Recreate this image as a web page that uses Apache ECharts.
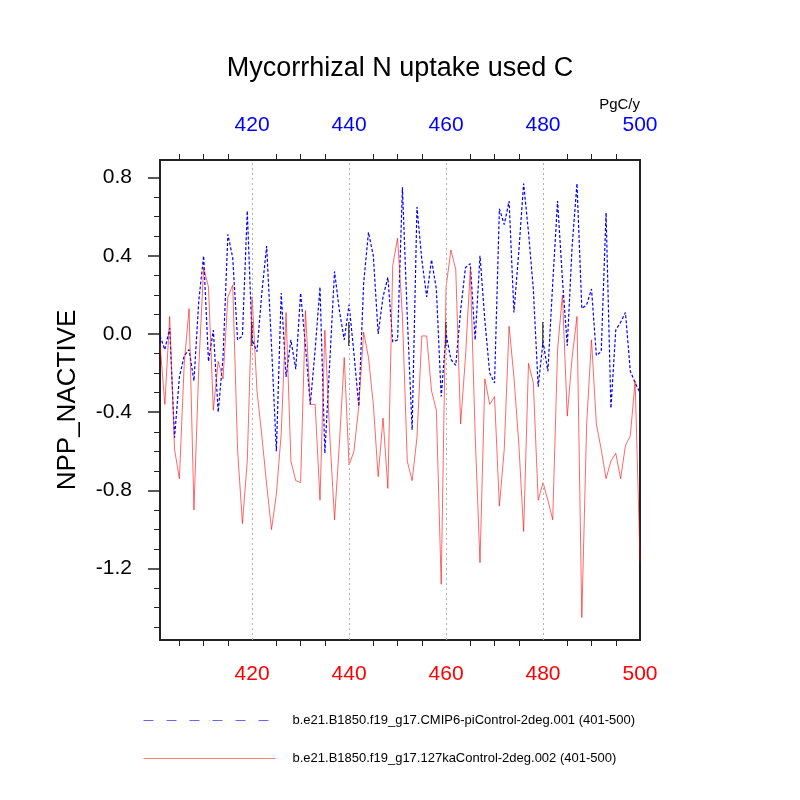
<!DOCTYPE html>
<html>
<head>
<meta charset="utf-8">
<title>Mycorrhizal N uptake used C</title>
<script src="https://cdn.jsdelivr.net/npm/echarts/dist/echarts.min.js"></script>
<style>
  html, body { margin: 0; padding: 0; background: #fff; }
  #chart { width: 800px; height: 800px; }
</style>
</head>
<body>
<div id="chart"></div>
<script>
// 年份 401-500
var startYear = 401;

// b.e21.B1850.f19_g17.CMIP6-piControl-2deg.001
var ctrlValues = [
  -0.01, -0.08, 0.03, -0.53, -0.22, -0.11, -0.08, -0.24, 0.17, 0.40,
  -0.14, 0.02, -0.40, -0.12, 0.51, 0.39, -0.03, -0.01, 0.63, -0.03,
  -0.09, 0.21, 0.45, -0.06, -0.60, 0.21, -0.22, -0.03, -0.18, 0.21,
  -0.06, -0.36, -0.08, 0.24, -0.61, -0.15, 0.32, 0.12, -0.03, 0.15,
  -0.10, -0.37, 0.26, 0.52, 0.40, 0.00, 0.19, 0.29, -0.04, -0.03,
  0.75, 0.09, -0.49, 0.65, 0.38, 0.19, 0.38, 0.23, -0.32, 0.00,
  -0.13, -0.16, 0.12, 0.34, 0.36, -0.03, 0.40, 0.07, -0.20, -0.25,
  0.64, 0.56, 0.68, 0.11, 0.42, 0.77, 0.52, 0.23, -0.27, -0.04,
  -0.19, 0.26, 0.68, 0.28, -0.06, 0.45, 0.77, 0.13, 0.15, 0.23,
  -0.11, -0.09, 0.62, -0.38, 0.02, 0.06, 0.11, -0.19, -0.25, -0.30
];

// b.e21.B1850.f19_g17.127kaControl-2deg.002
var kaValues = [
  -0.05, -0.36, 0.09, -0.59, -0.74, -0.15, 0.13, -0.90, -0.17, 0.34,
  0.24, -0.39, -0.14, -0.23, 0.19, 0.25, -0.59, -0.97, -0.65, 0.19,
  -0.29, -0.52, -0.77, -1.00, -0.82, -0.51, 0.11, -0.65, -0.75, -0.76,
  0.12, -0.36, -0.36, -0.85, 0.02, -0.51, -0.95, -0.56, -0.12, -0.67,
  -0.60, -0.37, 0.01, -0.12, -0.36, -0.73, -0.43, -0.79, 0.35, 0.49,
  0.09, -0.65, -0.75, -0.53, -0.01, -0.01, -0.29, -0.39, -1.28, 0.24,
  0.43, 0.33, -0.46, -0.12, 0.33, -0.51, -1.17, -0.23, -0.36, -0.32,
  -0.88, -0.59, 0.04, -0.22, -0.56, -1.01, -0.15, -0.25, -0.85, -0.76,
  -0.85, -0.95, -0.08, 0.20, -0.42, -0.12, 0.09, -1.45, -0.46, -0.03,
  -0.46, -0.59, -0.74, -0.65, -0.61, -0.74, -0.57, -0.52, -0.24, -1.16
];

var seriesNames = [
  'b.e21.B1850.f19_g17.CMIP6-piControl-2deg.001 (401-500)',
  'b.e21.B1850.f19_g17.127kaControl-2deg.002 (401-500)'
];

// 刻度
var xMajorTicks = [420, 440, 460, 480, 500];
var xMinorTicks = [405, 410, 415, 425, 430, 435, 445, 450, 455, 465, 470, 475, 485, 490, 495];
var yMajorTicks = [-1.2, -0.8, -0.4, 0.0, 0.4, 0.8];
var yMinorTicks = [-1.5, -1.4, -1.3, -1.1, -1.0, -0.9, -0.7, -0.6, -0.5, -0.3, -0.2, -0.1,
                   0.1, 0.2, 0.3, 0.5, 0.6, 0.7];
var gridYears = [420, 440, 460, 480];

var xMin = 401, xMax = 500;
var yMin = -1.565, yMax = 0.89;

function toPairs(values) {
  var out = [];
  for (var i = 0; i < values.length; i++) {
    out.push([startYear + i, values[i]]);
  }
  return out;
}

var font = 'Liberation Sans, Arial, Helvetica, sans-serif';
var frameColor = '#222';

function xAxisDef(pos, labelColor) {
  return {
    type: 'value', position: pos, min: xMin, max: xMax,
    axisLine: { show: false },
    splitLine: { show: false },
    axisTick: { show: true, customValues: xMajorTicks, length: 12, lineStyle: { color: frameColor, width: 1.5 } },
    axisLabel: { show: true, customValues: xMajorTicks, color: labelColor, fontSize: 21, fontFamily: font, margin: 24 }
  };
}
function xMinorDef(pos) {
  return {
    type: 'value', position: pos, min: xMin, max: xMax,
    axisLine: { show: false },
    splitLine: { show: false },
    axisTick: { show: true, customValues: xMinorTicks, length: 6, lineStyle: { color: frameColor, width: 1 } },
    axisLabel: { show: false }
  };
}

var chart = echarts.init(document.getElementById('chart'));
var option = {
  backgroundColor: '#fff',
  animation: false,
  title: {
    text: 'Mycorrhizal N uptake used C',
    left: 'center',
    top: 55,
    padding: 0,
    textStyle: { fontSize: 27, fontWeight: 'normal', color: '#000', fontFamily: font }
  },
  graphic: [{
    type: 'text',
    right: 160,
    top: 97,
    style: { text: 'PgC/y', fontSize: 15, fill: '#000', fontFamily: font }
  }],
  legend: {
    orient: 'vertical',
    left: 143,
    top: 714,
    padding: 0,
    itemWidth: 132,
    itemHeight: 1,
    itemGap: 25,
    textStyle: { fontSize: 13, color: '#000', fontFamily: font, padding: [0, 0, 0, 12] },
    data: [
      { name: seriesNames[0], itemStyle: { color: '#6666ff', borderWidth: 0 }, lineStyle: { color: '#6666ff', type: [10, 13], width: 1 } },
      { name: seriesNames[1], itemStyle: { color: '#ff6666', borderWidth: 0 }, lineStyle: { color: '#ff6666', width: 1 } }
    ]
  },
  grid: {
    left: 160, right: 160, top: 160, bottom: 160,
    show: true, borderColor: frameColor, borderWidth: 2, backgroundColor: 'transparent'
  },
  xAxis: [
    xAxisDef('bottom', '#ff0000'),
    xAxisDef('top', '#0000ff'),
    xMinorDef('bottom'),
    xMinorDef('top')
  ],
  yAxis: [
    {
      type: 'value', position: 'left', min: yMin, max: yMax,
      name: 'NPP_NACTIVE', nameLocation: 'middle', nameRotate: 90, nameGap: 79,
      nameTextStyle: { fontSize: 26, color: '#000', fontFamily: font },
      axisLine: { show: false },
      splitLine: { show: false },
      axisTick: { show: true, customValues: yMajorTicks, length: 12, lineStyle: { color: frameColor, width: 1.5 } },
      axisLabel: {
        show: true, customValues: yMajorTicks, color: '#000', fontSize: 21, fontFamily: font, margin: 28,
        formatter: function (v) { return v.toFixed(1); }
      }
    },
    {
      type: 'value', position: 'left', min: yMin, max: yMax,
      axisLine: { show: false },
      splitLine: { show: false },
      axisTick: { show: true, customValues: yMinorTicks, length: 6, lineStyle: { color: frameColor, width: 1 } },
      axisLabel: { show: false }
    }
  ],
  series: [
    {
      name: seriesNames[0],
      type: 'line',
      xAxisIndex: 0, yAxisIndex: 0,
      data: toPairs(ctrlValues),
      showSymbol: false, symbol: 'none',
      lineStyle: { color: '#0000ff', width: 1.2, type: [3, 2] },
      itemStyle: { color: '#0000ff' },
      markLine: {
        silent: true,
        symbol: 'none',
        label: { show: false },
        lineStyle: { color: '#b0b0b0', type: [2, 3], width: 1 },
        data: gridYears.map(function (y) { return { xAxis: y }; })
      }
    },
    {
      name: seriesNames[1],
      type: 'line',
      xAxisIndex: 0, yAxisIndex: 0,
      data: toPairs(kaValues),
      showSymbol: false, symbol: 'none',
      lineStyle: { color: '#ff0000', width: 0.7, type: 'solid', opacity: 0.85 },
      itemStyle: { color: '#ff0000' }
    }
  ]
};
chart.setOption(option);
</script>
</body>
</html>
